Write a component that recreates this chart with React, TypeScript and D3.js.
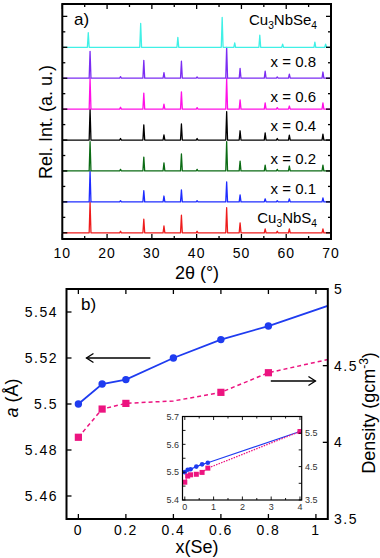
import React from "react";
import * as d3 from "d3";

// ---- panel a: XRD patterns (peak position in 2theta, relative height in band units) ----
const sampleNames = ["Cu3NbS4", "x = 0.1", "x = 0.2", "x = 0.4", "x = 0.6", "x = 0.8", "Cu3NbSe4"];
const sampleColors = ["#ee1c1c", "#1e2cff", "#0b6b14", "#000000", "#ff10e6", "#7b2cf2", "#40f0e6"];

const peaksS = [16.2, 23.0, 28.2, 32.7, 36.6, 40.1, 46.7, 49.7, 55.3, 58.0, 60.7, 68.2];
const heightsS = [1.0, 0.05, 0.44, 0.22, 0.57, 0.05, 0.81, 0.32, 0.13, 0.05, 0.13, 0.13];
const heightsX01 = [1.0, 0.04, 0.36, 0.19, 0.39, 0.04, 0.65, 0.23, 0.1, 0.04, 0.1, 0.13];
const heightsX02 = [0.95, 0.05, 0.45, 0.26, 0.55, 0.05, 0.95, 0.32, 0.19, 0.05, 0.16, 0.19];
const heightsX04 = [1.0, 0.05, 0.49, 0.17, 0.52, 0.05, 0.92, 0.3, 0.23, 0.05, 0.16, 0.19];
const heightsX06 = [1.0, 0.06, 0.52, 0.16, 0.56, 0.05, 1.0, 0.3, 0.2, 0.05, 0.1, 0.2];
const heightsX08 = [0.87, 0.05, 0.58, 0.18, 0.55, 0.04, 1.0, 0.32, 0.23, 0.04, 0.13, 0.2];
const peaksSe = [15.8, 27.5, 35.8, 45.7, 48.5, 54.1, 59.2, 66.4, 68.8];
const heightsSe = [0.47, 0.77, 0.32, 0.97, 0.14, 0.39, 0.1, 0.17, 0.1];

const twoThetaTicks = [10, 20, 30, 40, 50, 60, 70];

// ---- panel b: lattice parameter and density vs x(Se) ----
const xSe = [0, 0.1, 0.2, 0.4, 0.6, 0.8, 4];
const latticeA = [5.5, 5.5087, 5.5106, 5.52, 5.528, 5.5339, 5.646];
const density = [4.033, 4.217, 4.254, 4.27, 4.326, 4.454, 5.55];
const densityMarked = [true, true, true, false, true, true, true];

const xTicksB = [0, 0.2, 0.4, 0.6, 0.8, 1];
const aTicks = [5.46, 5.48, 5.5, 5.52, 5.54];
const densTicks = [3.5, 4, 4.5, 5];
const insetXTicks = [0, 1, 2, 3, 4];
const insetATicks = [5.4, 5.5, 5.6, 5.7];
const insetDTicks = [3.5, 4.5, 5.5];

const FONT = "'Liberation Sans', Arial, Helvetica, sans-serif";
const BLUE = "#1f3cf0";
const PINK = "#ec1480";

function Formula({ text, x, y, size }: { text: string; x: number; y: number; size: number }) {
  const parts = text.split(/(\d+)/).filter((p) => p.length);
  let down = false;
  return (
    <text x={x} y={y} textAnchor="end" fontSize={size} fontFamily={FONT}>
      {parts.map((p, i) => {
        const isNum = /^\d+$/.test(p);
        let dy = 0;
        if (isNum && !down) { dy = 4; down = true; }
        else if (!isNum && down) { dy = -4; down = false; }
        return (
          <tspan key={i} dy={dy} fontSize={isNum ? size * 0.68 : size}>{p}</tspan>
        );
      })}
    </text>
  );
}

export default function App() {
  // panel a scales
  const ax = d3.scaleLinear().domain([10, 70]).range([62.3, 331]);
  const ay = d3.scaleLinear().domain([-0.2, 7.4]).range([239, 4]);
  const aL = 62.3, aR = 331, aT = 4, aB = 239;

  const traces = [
    { peaks: peaksS, h: heightsS },
    { peaks: peaksS, h: heightsX01 },
    { peaks: peaksS, h: heightsX02 },
    { peaks: peaksS, h: heightsX04 },
    { peaks: peaksS, h: heightsX06 },
    { peaks: peaksS, h: heightsX08 },
    { peaks: peaksSe, h: heightsSe },
  ];
  const hw = 0.2;
  const tracePath = (i: number) => {
    const t = traces[i];
    const pts: [number, number][] = [[10, 0]];
    t.peaks.forEach((p, k) => {
      pts.push([p - hw, 0], [p, t.h[k]], [p + hw, 0]);
    });
    pts.push([70, 0]);
    return d3.line<[number, number]>().x((d) => ax(d[0])).y((d) => ay(i + d[1]))(pts) || "";
  };
  const labelLift = [15, 13, 12, 14, 12.5, 16, 27];

  // panel b scales
  const bL = 66.5, bR = 327.8, bT = 289, bB = 519;
  const bx = d3.scaleLinear().domain([-0.05, 1.05]).range([bL, bR]);
  const by = d3.scaleLinear().domain([5.45, 5.55]).range([bB, bT]);
  const bd = d3.scaleLinear().domain([3.5, 5]).range([bB, bT]);

  // inset scales
  const iL = 182.5, iR = 301.7, iT = 416.5, iB = 500;
  const ix = d3.scaleLinear().domain([-0.08, 4.06]).range([iL, iR]);
  const iy = d3.scaleLinear().domain([5.4, 5.7]).range([iB, iT]);
  const id = d3.scaleLinear().domain([3.5, 6]).range([iB, iT]);

  const idx = xSe.map((_, i) => i);
  const lineA = (sx: any, sy: any) =>
    d3.line<number>().x((i) => sx(xSe[i])).y((i) => sy(latticeA[i]))(idx) || "";
  const lineD = (sx: any, sy: any) =>
    d3.line<number>().x((i) => sx(xSe[i])).y((i) => sy(density[i]))(idx) || "";

  const minorA = d3.range(0.5, 7, 1);
  const majorA = d3.range(0, 8, 1);
  const minorX = d3.range(15, 70, 10);

  const tick = { stroke: "#000", strokeWidth: 1.3 };

  return (
    <svg width={380} height={558} style={{ position: "absolute", left: 0, top: 0, background: "#fff" }}>
      <defs>
        <clipPath id="clipA"><rect x={aL} y={aT} width={aR - aL} height={aB - aT} /></clipPath>
        <clipPath id="clipB"><rect x={bL} y={bT} width={bR - bL} height={bB - bT} /></clipPath>
        <clipPath id="clipI"><rect x={iL} y={iT} width={iR - iL} height={iB - iT} /></clipPath>
      </defs>

      {/* ---------- panel a ---------- */}
      <g clipPath="url(#clipA)">
        {traces.map((_, i) => (
          <path key={i} d={tracePath(i)} fill="none" stroke={sampleColors[i]} strokeWidth={1.3} strokeLinejoin="round" />
        ))}
      </g>
      {majorA.map((v) => (
        <g key={"ma" + v}>
          <line x1={aL} x2={aL + 5} y1={ay(v)} y2={ay(v)} {...tick} />
          <line x1={aR} x2={aR - 5} y1={ay(v)} y2={ay(v)} {...tick} />
        </g>
      ))}
      {minorA.map((v) => (
        <g key={"mi" + v}>
          <line x1={aL} x2={aL + 3} y1={ay(v)} y2={ay(v)} {...tick} />
          <line x1={aR} x2={aR - 3} y1={ay(v)} y2={ay(v)} {...tick} />
        </g>
      ))}
      {twoThetaTicks.map((v) => (
        <g key={"tx" + v}>
          <line x1={ax(v)} x2={ax(v)} y1={aB} y2={aB - 5} {...tick} />
          <line x1={ax(v)} x2={ax(v)} y1={aT} y2={aT + 5} {...tick} />
          <text x={ax(v)} y={258} textAnchor="middle" fontSize={14} fontFamily={FONT} letterSpacing={1}>{v}</text>
        </g>
      ))}
      {minorX.map((v) => (
        <g key={"mx" + v}>
          <line x1={ax(v)} x2={ax(v)} y1={aB} y2={aB - 3} {...tick} />
          <line x1={ax(v)} x2={ax(v)} y1={aT} y2={aT + 3} {...tick} />
        </g>
      ))}
      <rect x={aL} y={aT} width={aR - aL} height={aB - aT} fill="none" stroke="#000" strokeWidth={2} />

      {sampleNames.map((n, i) =>
        n.startsWith("Cu") ? (
          <Formula key={n} text={n} x={317} y={ay(i) - labelLift[i] + 5} size={15} />
        ) : (
          <text key={n} x={316} y={ay(i) - labelLift[i] + 5} textAnchor="end" fontSize={15} fontFamily={FONT}>{n}</text>
        )
      )}
      <text x={74} y={25} fontSize={17} fontFamily={FONT}>a)</text>
      <text transform="translate(52,122) rotate(-90)" textAnchor="middle" fontSize={18} fontFamily={FONT}>Rel. Int. (a. u.)</text>
      <text x={197} y={279} textAnchor="middle" fontSize={18} fontFamily={FONT}>2θ (°)</text>

      {/* ---------- panel b ---------- */}
      <g clipPath="url(#clipB)">
        <path d={lineA(bx, by)} fill="none" stroke={BLUE} strokeWidth={1.8} />
        <path d={lineD(bx, bd)} fill="none" stroke={PINK} strokeWidth={1.5} strokeDasharray="4,3" />
        {idx.map((i) => (
          <circle key={"c" + i} cx={bx(xSe[i])} cy={by(latticeA[i])} r={3.7} fill={BLUE} />
        ))}
        {idx.filter((i) => densityMarked[i]).map((i) => (
          <rect key={"s" + i} x={bx(xSe[i]) - 3.6} y={bd(density[i]) - 3.6} width={7.2} height={7.2} fill={PINK} />
        ))}
      </g>
      {xTicksB.map((v) => (
        <g key={"bx" + v}>
          <line x1={bx(v)} x2={bx(v)} y1={bB} y2={bB - 5} {...tick} />
          <line x1={bx(v)} x2={bx(v)} y1={bT} y2={bT + 5} {...tick} />
          <text x={bx(v)} y={535} textAnchor="middle" fontSize={14} fontFamily={FONT} letterSpacing={1.5}>{v}</text>
        </g>
      ))}
      {aTicks.map((v) => (
        <g key={"ba" + v}>
          <line x1={bL} x2={bL + 5} y1={by(v)} y2={by(v)} {...tick} />
          <text x={58} y={by(v) + 5} textAnchor="end" fontSize={14} fontFamily={FONT} letterSpacing={1.5}>{v}</text>
        </g>
      ))}
      {densTicks.map((v) => (
        <g key={"bd" + v}>
          <line x1={bR} x2={bR - 5} y1={bd(v)} y2={bd(v)} {...tick} />
          <text x={334} y={bd(v) + 5} textAnchor="start" fontSize={14} fontFamily={FONT} letterSpacing={1.5}>{v}</text>
        </g>
      ))}
      <rect x={bL} y={bT} width={bR - bL} height={bB - bT} fill="none" stroke="#000" strokeWidth={2} />

      {/* arrows */}
      <g stroke="#000" strokeWidth={1.3} fill="none">
        <line x1={bx(0.303)} x2={bx(0.034)} y1={by(5.52)} y2={by(5.52)} />
        <polyline points={`${bx(0.034) + 7},${by(5.52) - 4.5} ${bx(0.034)},${by(5.52)} ${bx(0.034) + 7},${by(5.52) + 4.5}`} />
        <line x1={bx(0.81)} x2={bx(0.998)} y1={bd(4.4)} y2={bd(4.4)} />
        <polyline points={`${bx(0.998) - 7},${bd(4.4) - 4.5} ${bx(0.998)},${bd(4.4)} ${bx(0.998) - 7},${bd(4.4) + 4.5}`} />
      </g>

      <text x={81} y={310} fontSize={17} fontFamily={FONT}>b)</text>
      <text transform="translate(18,398) rotate(-90)" textAnchor="middle" fontSize={18} fontFamily={FONT}>
        <tspan fontStyle="italic">a</tspan> (Å)
      </text>
      <text transform="translate(375,413) rotate(-90)" textAnchor="middle" fontSize={18} fontFamily={FONT}>
        Density (gcm<tspan fontSize={12} dy={-7}>-3</tspan><tspan dy={7}>)</tspan>
      </text>
      <text x={197} y={553} textAnchor="middle" fontSize={18} fontFamily={FONT}>x(Se)</text>

      {/* ---------- inset ---------- */}
      <rect x={iL} y={iT} width={iR - iL} height={iB - iT} fill="#fff" />
      <g clipPath="url(#clipI)">
        <path d={lineA(ix, iy)} fill="none" stroke={BLUE} strokeWidth={1.2} />
        <path d={lineD(ix, id)} fill="none" stroke={PINK} strokeWidth={1.2} strokeDasharray="1.5,1.2" />
        {idx.map((i) => (
          <circle key={"ic" + i} cx={ix(xSe[i])} cy={iy(latticeA[i])} r={2.3} fill={BLUE} />
        ))}
        {idx.map((i) => (
          <rect key={"is" + i} x={ix(xSe[i]) - 2.5} y={id(density[i]) - 2.5} width={5} height={5} fill={PINK} />
        ))}
      </g>
      {d3.range(0, 4.01, 0.5).map((v) => (
        <g key={"ixt" + v}>
          <line x1={ix(v)} x2={ix(v)} y1={iB} y2={iB - (v % 1 === 0 ? 3.5 : 2)} stroke="#000" strokeWidth={0.9} />
          <line x1={ix(v)} x2={ix(v)} y1={iT} y2={iT + (v % 1 === 0 ? 3.5 : 2)} stroke="#000" strokeWidth={0.9} />
        </g>
      ))}
      {insetXTicks.map((v) => (
        <text key={"ixl" + v} x={ix(v)} y={510} textAnchor="middle" fontSize={9} fontFamily={FONT} fill="#333">{v}</text>
      ))}
      {d3.range(5.4, 5.701, 0.05).map((v) => (
        <line key={"iyt" + v} x1={iL} x2={iL + 3} y1={iy(v)} y2={iy(v)} stroke="#000" strokeWidth={0.9} />
      ))}
      {insetATicks.map((v) => (
        <text key={"iyl" + v} x={179} y={iy(v) + 3.2} textAnchor="end" fontSize={9} fontFamily={FONT} fill="#333">{v}</text>
      ))}
      {d3.range(3.5, 6.01, 0.5).map((v) => (
        <line key={"idt" + v} x1={iR} x2={iR - 3} y1={id(v)} y2={id(v)} stroke="#000" strokeWidth={0.9} />
      ))}
      {insetDTicks.map((v) => (
        <text key={"idl" + v} x={305} y={id(v) + 3.2} textAnchor="start" fontSize={9} fontFamily={FONT} fill="#333">{v}</text>
      ))}
      <rect x={iL} y={iT} width={iR - iL} height={iB - iT} fill="none" stroke="#000" strokeWidth={1.2} />
    </svg>
  );
}
